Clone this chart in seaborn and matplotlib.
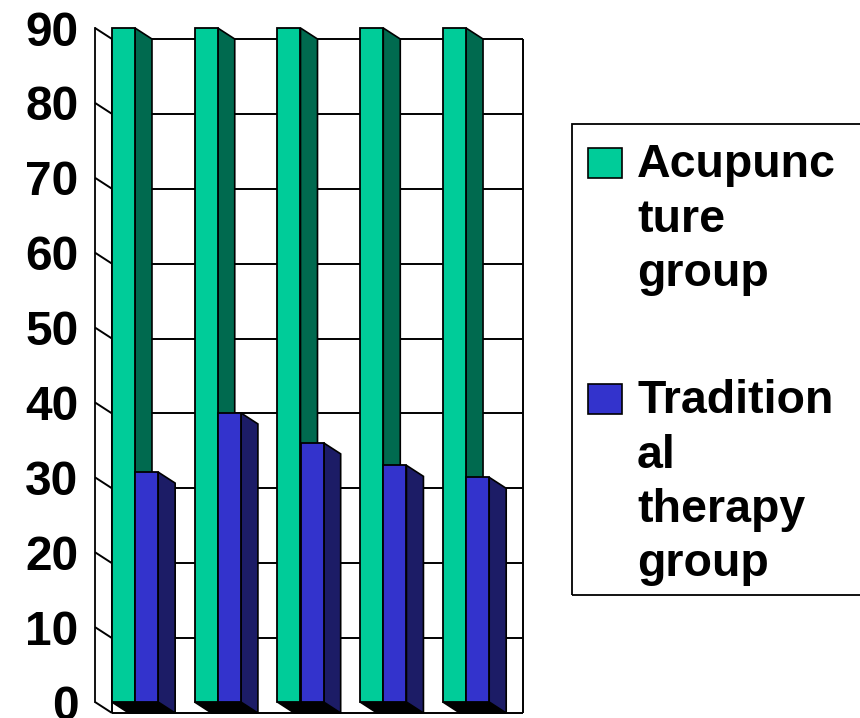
import matplotlib
matplotlib.use("Agg")
import matplotlib.pyplot as plt
from matplotlib.patches import Polygon, Rectangle
import pandas as pd
import seaborn as sns

# ---- data -------------------------------------------------------------
sessions = ["1", "2", "3", "4", "5"]
acupuncture = [90, 90, 90, 90, 90]
traditional = [30.7, 38.6, 34.6, 31.6, 30.0]
series_names = ["Acupuncture group", "Traditional therapy group"]
legend_lines = [["Acupunc", "ture", "group"],
                ["Tradition", "al", "therapy", "group"]]
yticks = list(range(0, 91, 10))

# ---- style ------------------------------------------------------------
front_colors = ["#00CC99", "#3333CC"]
side_colors = ["#006A4F", "#1C1C66"]
bottom_color = "#000000"

sns.set_style("white")
plt.rcParams["font.family"] = ["Liberation Sans", "DejaVu Sans"]
plt.rcParams["font.weight"] = "bold"

W, H = 860, 718
fig = plt.figure(figsize=(W / 100, H / 100), dpi=100)
fig.patch.set_facecolor("white")
ax = fig.add_axes([95 / W, (H - 702) / H, 411 / W, 674 / H])
ax.set_facecolor("none")

df = pd.DataFrame({
    "session": sessions * 2,
    "value": acupuncture + traditional,
    "series": [series_names[0]] * len(sessions) + [series_names[1]] * len(sessions),
})

sns.barplot(data=df, x="session", y="value", hue="series",
            palette=front_colors, width=0.56, dodge=True, gap=0,
            saturation=1, edgecolor="black", linewidth=1.3,
            legend=False, ax=ax)

ax.set_xlim(-0.483, 4.483)
ax.set_ylim(0, 90)
ax.set_xlabel("")
ax.set_ylabel("")
ax.set_xticks([])
ax.set_yticks(yticks)
ax.tick_params(axis="y", direction="out", length=4.3, width=1.3,
               pad=7.5, labelsize=34.5, colors="black")
for lab in ax.get_yticklabels():
    lab.set_fontweight("bold")
for side in ("top", "right", "bottom"):
    ax.spines[side].set_visible(False)
ax.spines["left"].set_color("black")
ax.spines["left"].set_linewidth(1.3)

# depth offset of the 3-D box, converted from pixels to data units
p0 = ax.transData.transform((0, 0))
p1 = ax.transData.transform((1, 1))
ddx = 17 / (p1[0] - p0[0])
ddy = 11 / (p1[1] - p0[1])

x0, x1 = ax.get_xlim()
bx0, bx1 = x0 + ddx, x1 + ddx
line_kw = dict(color="black", lw=1.4, clip_on=False, zorder=1,
               solid_capstyle="butt")

# back wall grid, side wall diagonals and wall edges
for v in yticks:
    ax.plot([bx0, bx1], [v - ddy, v - ddy], **line_kw)
    ax.plot([x0, bx0], [v, v - ddy], **line_kw)
ax.plot([bx0, bx0], [-ddy, yticks[-1] - ddy], **line_kw)
ax.plot([bx1, bx1], [-ddy, yticks[-1] - ddy], **line_kw)

# extruded faces of every bar
for k, cont in enumerate(ax.containers):
    for bar in cont:
        xl = bar.get_x()
        xr = xl + bar.get_width()
        top = bar.get_height()
        zbase = 2 + k * 0.3
        bottom = Polygon([(xl, 0), (xr, 0), (xr + ddx, -ddy), (xl + ddx, -ddy)],
                         closed=True, facecolor=bottom_color, edgecolor="black",
                         lw=1.2, clip_on=False, zorder=zbase)
        side = Polygon([(xr, 0), (xr, top), (xr + ddx, top - ddy), (xr + ddx, -ddy)],
                       closed=True, facecolor=side_colors[k], edgecolor="black",
                       lw=1.2, clip_on=False, zorder=zbase + 0.1)
        ax.add_patch(bottom)
        ax.add_patch(side)
        bar.set_zorder(zbase + 0.2)
        bar.set_clip_on(False)

# ---- legend -----------------------------------------------------------
def fx(px):
    return px / W


def fy(py):
    return 1 - py / H


frame = Rectangle((fx(572), fy(595)), fx(900) - fx(572), fy(124) - fy(595),
                  transform=fig.transFigure, fill=False, edgecolor="black",
                  lw=1.3, zorder=5)
fig.add_artist(frame)

first_baselines = [177, 413]
line_step = 54.5
for k, lines in enumerate(legend_lines):
    base = first_baselines[k]
    sq = Rectangle((fx(588), fy(base + 1)), fx(34), fy(0) - fy(30),
                   transform=fig.transFigure,
                   facecolor=ax.containers[k][0].get_facecolor(),
                   edgecolor="black", lw=1.2, zorder=5)
    fig.add_artist(sq)
    for i, txt in enumerate(lines):
        fig.text(fx(637), fy(base + i * line_step), txt, fontsize=33.5,
                 fontweight="bold", ha="left", va="baseline", color="black")

fig.savefig("out.png", dpi=100, facecolor="white")
